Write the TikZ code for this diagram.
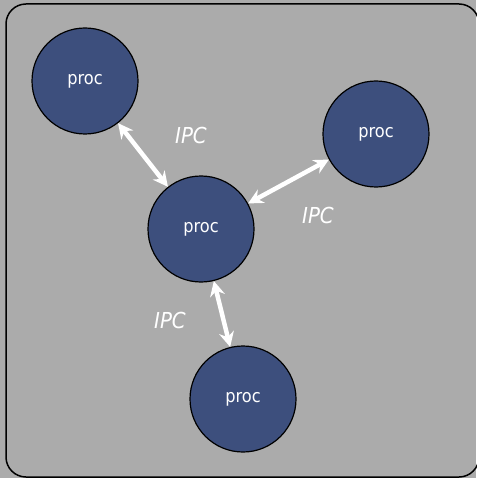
\documentclass[tikz,border=0pt]{standalone}
\usepackage{fontspec}
\setmainfont{DejaVu Sans Condensed}
\usetikzlibrary{arrows.meta}
\definecolor{bggray}{HTML}{ABABAB}
\definecolor{procblue}{HTML}{3D4F7D}
\begin{document}
\begin{tikzpicture}[x=1pt,y=-1pt,
  proc/.style={circle,draw=black,line width=1.2pt,fill=procblue,minimum size=106pt,inner sep=0pt,text=white,font=\fontsize{18}{20}\selectfont},
  ipc/.style={text=white,font=\fontsize{22}{24}\selectfont\itshape},
  link/.style={white,line width=4.5pt,{Stealth[length=15pt,width=15pt,inset=5pt]}-{Stealth[length=15pt,width=15pt,inset=5pt]}}]
\useasboundingbox (0,0) rectangle (476,478);
\fill[bggray] (0,0) rectangle (476,478);
\draw[line width=1.5pt,rounded corners=20pt] (6,4) rectangle (479,477);
\node[proc] (p1) at (85,81) {proc};
\node[proc] (p2) at (376,134) {proc};
\node[proc] (p0) at (201,229) {proc};
\node[proc] (p3) at (243,399) {proc};
\draw[link] (p1) -- (p0);
\draw[link] (p0) -- (p2);
\draw[link] (p0) -- (p3);
\node[ipc] (ipc1) at (191,135) {IPC};
\node[ipc] (ipc2) at (318,215) {IPC};
\node[ipc] (ipc3) at (170,320) {IPC};
\end{tikzpicture}
\end{document}
